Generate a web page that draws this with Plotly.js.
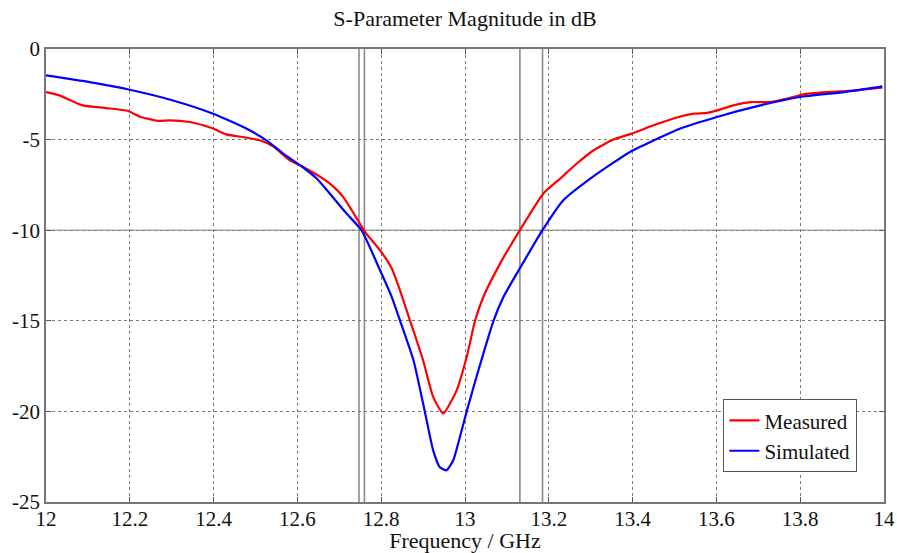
<!DOCTYPE html>
<html>
<head>
<meta charset="utf-8">
<script src="https://cdn.plot.ly/plotly-3.0.1.min.js"></script>
</head>
<body style="margin:0;background:#fff;font-family:'Liberation Serif',serif">
<div id="chart" style="width:897px;height:553px"></div>
<script>
// Measured S-parameter (red)
const freqMeasured = [12.000,12.032,12.088,12.144,12.196,12.223,12.267,12.295,12.343,12.375,12.399,12.430,12.478,12.510,12.542,12.582,12.614,12.661,12.677,12.709,12.749,12.761,12.797,12.825,12.845,12.869,12.900,12.924,12.948,12.980,13.004,13.024,13.044,13.084,13.131,13.187,13.227,13.267,13.307,13.354,13.398,13.450,13.510,13.546,13.578,13.601,13.641,13.681,13.729,13.769,13.808,13.864,13.928,13.996];
const dbMeasured = [-2.38,-2.56,-3.11,-3.26,-3.42,-3.72,-3.97,-3.94,-4.03,-4.21,-4.39,-4.71,-4.89,-5.04,-5.37,-6.14,-6.51,-7.15,-7.42,-8.16,-9.63,-10.09,-11.10,-12.10,-13.33,-15.00,-17.18,-19.20,-20.12,-18.84,-17.00,-15.00,-13.67,-11.83,-10.00,-7.97,-7.15,-6.32,-5.59,-5.00,-4.67,-4.21,-3.75,-3.57,-3.53,-3.39,-3.11,-2.93,-2.93,-2.74,-2.50,-2.38,-2.29,-2.14];

// Simulated S-parameter (blue)
const freqSimulated = [12.000,12.104,12.200,12.303,12.399,12.478,12.526,12.566,12.614,12.646,12.677,12.717,12.753,12.797,12.825,12.845,12.877,12.904,12.924,12.940,12.956,12.972,12.988,13.004,13.032,13.068,13.092,13.131,13.185,13.235,13.299,13.394,13.514,13.601,13.705,13.800,13.904,13.996];
const dbSimulated = [-1.46,-1.83,-2.25,-2.84,-3.57,-4.39,-5.04,-5.77,-6.54,-7.15,-7.97,-9.07,-10.00,-12.20,-13.68,-15.00,-17.18,-20.00,-22.15,-23.08,-23.25,-22.70,-21.40,-20.00,-17.73,-15.00,-13.67,-12.10,-10.00,-8.34,-7.15,-5.68,-4.39,-3.75,-3.11,-2.65,-2.38,-2.06];

// Marker lines
const bandLinesX = [12.747, 12.760, 13.131, 13.185];
const refLevelDb = [-10];

// Ticks
const xTickVals = [12, 12.2, 12.4, 12.6, 12.8, 13, 13.2, 13.4, 13.6, 13.8, 14];
const xTickText = ['12','12.2','12.4','12.6','12.8','13','13.2','13.4','13.6','13.8','14'];
const yTickVals = [0, -5, -10, -15, -20, -25];
const yTickText = ['0','-5','-10','-15','-20','-25'];

const FONT = '"Liberation Serif", "Times New Roman", Times, serif';

const traces = [
  {x: freqMeasured, y: dbMeasured, name: 'Measured', type: 'scatter', mode: 'lines',
   line: {color: '#ff0000', width: 2.2, shape: 'spline', smoothing: 0.5}},
  {x: freqSimulated, y: dbSimulated, name: 'Simulated', type: 'scatter', mode: 'lines',
   line: {color: '#0000ff', width: 2.2, shape: 'spline', smoothing: 0.5}}
];

const shapes = [];
bandLinesX.forEach(v => shapes.push({type: 'line', xref: 'x', yref: 'paper', x0: v, x1: v, y0: 0, y1: 1,
  line: {color: '#8a8a8a', width: 1.6}, layer: 'below'}));
refLevelDb.forEach(v => shapes.push({type: 'line', xref: 'paper', yref: 'y', x0: 0, x1: 1, y0: v, y1: v,
  line: {color: '#b0b0b0', width: 1.6}, layer: 'below'}));

const layout = {
  autosize: true,
  paper_bgcolor: '#ffffff', plot_bgcolor: '#ffffff',
  margin: {l: 46, r: 13, t: 49, b: 51, pad: 0},
  font: {family: FONT, color: '#111', size: 21},
  title: {text: 'S-Parameter Magnitude in dB', font: {family: FONT, size: 22, color: '#111'},
    x: 0.5, xanchor: 'center', xref: 'paper', y: 0.967, yref: 'container', yanchor: 'middle'},
  xaxis: {
    range: [12, 14], tickvals: xTickVals, ticktext: xTickText,
    showgrid: true, gridcolor: '#7a7a7a', griddash: 'dot', gridwidth: 1,
    zeroline: false, showline: true, linecolor: '#777', linewidth: 1.5, mirror: 'ticks',
    ticks: 'inside', ticklen: 5, tickcolor: '#555', tickfont: {family: FONT, size: 21},
    ticklabelstandoff: -3,
    title: {text: 'Frequency / GHz', font: {family: FONT, size: 22}, standoff: 0}
  },
  yaxis: {
    range: [-25, 0], tickvals: yTickVals, ticktext: yTickText,
    showgrid: true, gridcolor: '#7a7a7a', griddash: 'dot', gridwidth: 1,
    zeroline: false, showline: true, linecolor: '#777', linewidth: 1.5, mirror: 'ticks',
    ticks: 'inside', ticklen: 5, tickcolor: '#555', tickfont: {family: FONT, size: 21}
  },
  shapes: shapes,
  showlegend: true,
  legend: {x: 0.968, xanchor: 'right', y: 0.066, yanchor: 'bottom',
    bgcolor: '#ffffff', bordercolor: '#555', borderwidth: 1.2,
    font: {size: 21, family: FONT, color: '#111'}, tracegroupgap: 0}
};

Plotly.newPlot('chart', traces, layout, {displayModeBar: false, responsive: false});
</script>
</body>
</html>
